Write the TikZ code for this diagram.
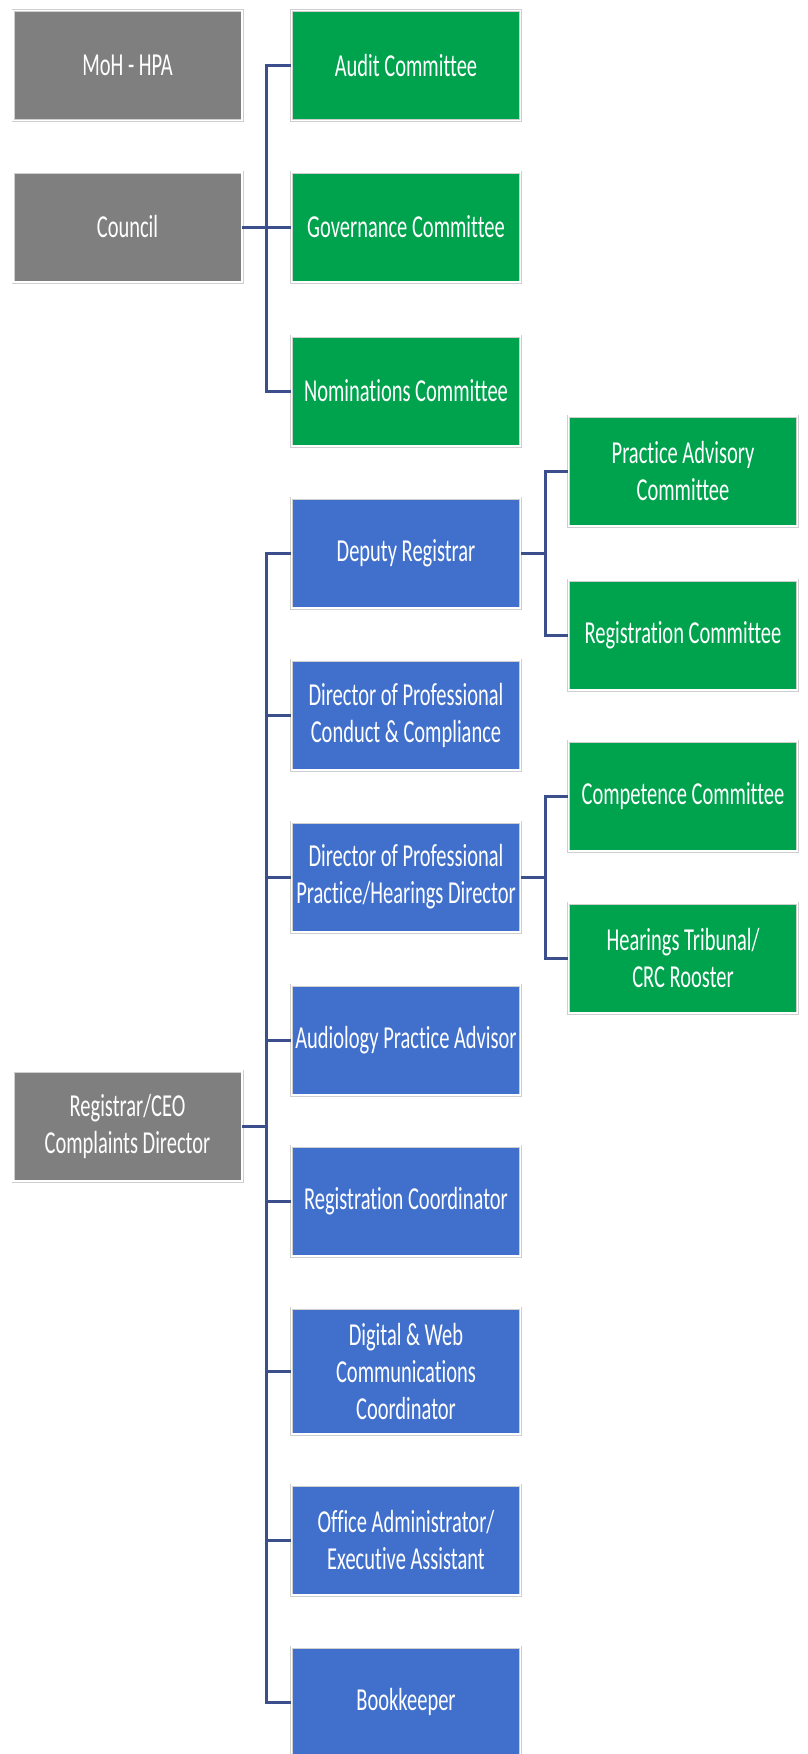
\documentclass[tikz,border=0pt]{standalone}
\usepackage{fontspec}
\setmainfont{Carlito}[FakeStretch=0.64, Ligatures=NoCommon]
\definecolor{boxgray}{HTML}{7F7F7F}
\definecolor{boxgreen}{HTML}{00A34D}
\definecolor{boxblue}{HTML}{4170CC}
\definecolor{connblue}{HTML}{3B4F8C}
\definecolor{rimgray}{HTML}{CFCFCF}
\tikzset{
  orgbox/.style={rectangle, minimum width=229pt, minimum height=110pt, inner sep=2pt,
    draw=rimgray, line width=0.8pt, double=white, double distance=1.4pt,
    text=white, align=center, font=\fontsize{32pt}{37pt}\selectfont},
  graybox/.style={orgbox, fill=boxgray},
  greenbox/.style={orgbox, fill=boxgreen},
  bluebox/.style={orgbox, fill=boxblue},
  conn/.style={draw=connblue, line width=3pt}
}
\begin{document}
\begin{tikzpicture}[x=1pt,y=-1pt]
\useasboundingbox (0,0) rectangle (807,1754);
\clip (0,0) rectangle (807,1754);
% left column
\node[graybox] (moh) at (127.5,65.5) {MoH - HPA};
\node[graybox] (council) at (127.5,227) {Council};
\node[graybox] (ceo) at (127.5,1126) {Registrar/CEO\\Complaints Director};
% committees of council
\node[greenbox] (aud) at (406,65.5) {Audit Committee};
\node[greenbox] (gov) at (406,227) {Governance Committee};
\node[greenbox] (nom) at (406,391) {Nominations Committee};
% staff
\node[bluebox] (dep) at (406,553) {Deputy Registrar};
\node[bluebox] (dpc) at (406,715) {Director of Professional\\Conduct \& Compliance};
\node[bluebox] (dpp) at (406,877) {Director of Professional\\Practice/Hearings Director};
\node[bluebox] (aud2) at (406,1040) {Audiology Practice Advisor};
\node[bluebox] (regc) at (406,1201) {Registration Coordinator};
\node[bluebox, minimum height=126pt] (dig) at (406,1371) {Digital \& Web\\Communications\\Coordinator};
\node[bluebox] (off) at (406,1540) {Office Administrator/\\Executive Assistant};
\node[bluebox] (book) at (406,1702) {Bookkeeper};
% right committees
\node[greenbox] (pac) at (683,471) {Practice Advisory\\Committee};
\node[greenbox] (rgc) at (683,635) {Registration Committee};
\node[greenbox] (cmp) at (683,796) {Competence Committee};
\node[greenbox] (hear) at (683,958) {Hearings Tribunal/\\CRC Rooster};
% trunk positions
\coordinate (t1) at (266,0);
\coordinate (t2) at (545,0);
% council connectors
\draw[conn] (aud.west) -- (aud.west -| t1) -- (nom.west -| t1) -- (nom.west);
\draw[conn] (council.east) -- (gov.west);
% registrar connectors
\draw[conn] (dep.west) -- (dep.west -| t1) -- (book.west -| t1) -- (book.west);
\draw[conn] (ceo.east) -- (ceo.east -| t1);
\foreach \n in {dpc,dpp,aud2,regc,dig,off}
  \draw[conn] (\n.west -| t1) -- (\n.west);
% deputy registrar
\draw[conn] (dep.east) -- (dep.east -| t2);
\draw[conn] (pac.west) -- (pac.west -| t2) -- (rgc.west -| t2) -- (rgc.west);
% director of professional practice
\draw[conn] (dpp.east) -- (dpp.east -| t2);
\draw[conn] (cmp.west) -- (cmp.west -| t2) -- (hear.west -| t2) -- (hear.west);
\end{tikzpicture}
\end{document}
